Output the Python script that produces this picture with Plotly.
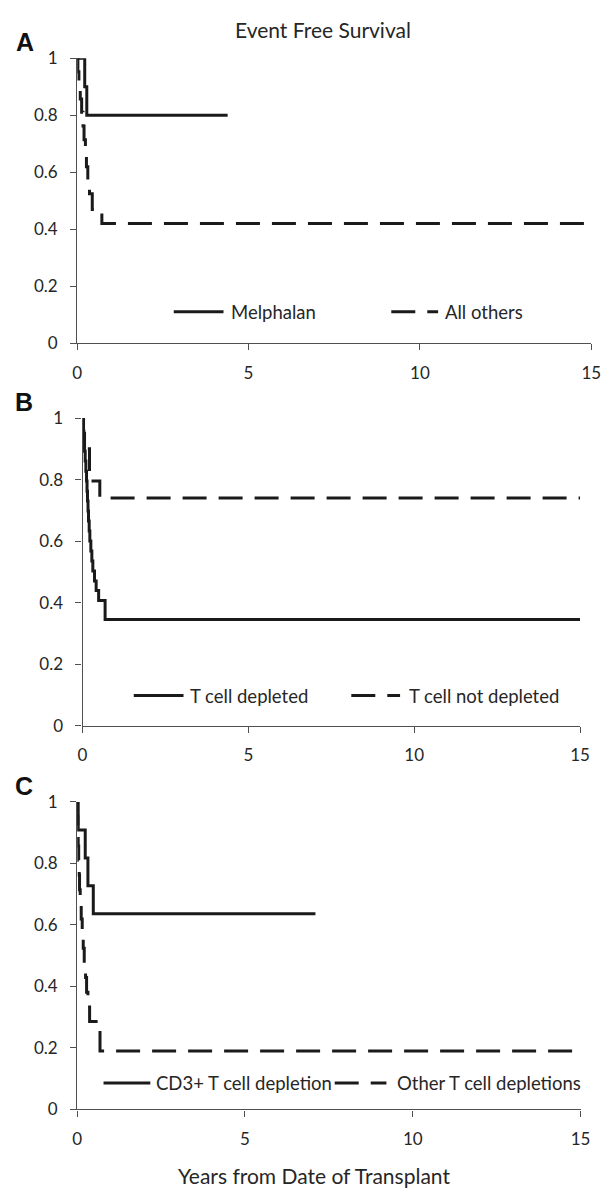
import plotly.graph_objects as go

# ---------------- data ----------------
# Panel A
melphalan_t = [0, 0.22, 0.28, 4.39]
melphalan_s = [1, 0.90, 0.80, 0.80]
allothers_t = [0, 0.02, 0.05, 0.09, 0.13, 0.17, 0.20, 0.24, 0.27, 0.31, 0.36, 0.44, 0.72, 15]
allothers_s = [1, 0.952, 0.905, 0.857, 0.81, 0.762, 0.714, 0.667, 0.619, 0.571, 0.524, 0.469, 0.42, 0.42]

# Panel B
tdep_t = [0, 0.02, 0.04, 0.06, 0.08, 0.10, 0.12, 0.135, 0.15, 0.165, 0.18, 0.20, 0.22,
          0.25, 0.28, 0.31, 0.36, 0.41, 0.485, 0.68, 15]
tdep_s = [1, 0.957, 0.925, 0.892, 0.86, 0.827, 0.795, 0.762, 0.73, 0.698, 0.665, 0.633, 0.60,
          0.568, 0.535, 0.503, 0.47, 0.439, 0.407, 0.345, 0.345]
tnotdep_t = [0, 0.03, 0.06, 0.21, 0.52, 15]
tnotdep_s = [1, 0.95, 0.90, 0.795, 0.74, 0.74]

# Panel C
cd3_t = [0, 0.03, 0.24, 0.32, 0.48, 7.1]
cd3_s = [1, 0.909, 0.818, 0.727, 0.636, 0.636]
othertcd_t = [0, 0.01, 0.02, 0.03, 0.045, 0.06, 0.07, 0.09, 0.12, 0.15, 0.18, 0.21, 0.25,
              0.28, 0.32, 0.37, 0.68, 14.8]
othertcd_s = [1, 0.952, 0.905, 0.857, 0.81, 0.762, 0.714, 0.667, 0.619, 0.571, 0.524, 0.476,
              0.429, 0.381, 0.333, 0.286, 0.19, 0.19]

x_ticks = [0, 5, 10, 15]
x_ticklabels = ["0", "5", "10", "15"]
y_ticks = [0, 0.2, 0.4, 0.6, 0.8, 1]
y_ticklabels = ["0", "0.2", "0.4", "0.6", "0.8", "1"]

panel_letters = ["A", "B", "C"]
legend_names = [["Melphalan", "All others"],
                ["T cell depleted", "T cell not depleted"],
                ["CD3+ T cell depletion", "Other T cell depletions"]]
title_text = "Event Free Survival"
xtitle_text = "Years from Date of Transplant"

# ---------------- styling ----------------
W, H = 612, 1200
FONT = "Lato"
TXT = "#262626"
AX = "#505050"
LINE = "#1a1a1a"
DASH = "24px,12px"


def px(x):
    return x / W


def py(y):
    return 1 - y / H


fig = go.Figure()

series = [
    (melphalan_t, melphalan_s, allothers_t, allothers_s),
    (tdep_t, tdep_s, tnotdep_t, tnotdep_s),
    (cd3_t, cd3_s, othertcd_t, othertcd_s),
]

# pixel geometry of each panel: (x at 0, x at 15, y at 1, y at 0)
geom = [(74, 601, 48, 338), (79.5, 589.5, 414.3, 727.3), (74, 590, 805, 1118)]

for i, (st, ss, dt, ds) in enumerate(series):
    k = "" if i == 0 else str(i + 1)
    fig.add_trace(go.Scatter(x=st, y=ss, mode="lines", line_shape="hv",
                             line=dict(color=LINE, width=3), name=legend_names[i][0],
                             xaxis="x" + k, yaxis="y" + k, showlegend=False))
    fig.add_trace(go.Scatter(x=dt, y=ds, mode="lines", line_shape="hv",
                             line=dict(color=LINE, width=3, dash=DASH), name=legend_names[i][1],
                             xaxis="x" + k, yaxis="y" + k, showlegend=False))
    x0, x1, y1, y0 = geom[i]
    common = dict(showline=True, linecolor=AX, linewidth=1.3, ticks="outside", ticklen=6,
                  tickcolor=AX, tickwidth=1.3, showgrid=False, zeroline=False,
                  tickfont=dict(family=FONT, size=17, color=TXT))
    fig.layout["xaxis" + k] = dict(domain=[px(x0), px(x1)], range=[0, 15],
                                   tickvals=x_ticks, ticktext=x_ticklabels,
                                   anchor="y" + k, ticklabelstandoff=8, **common)
    fig.layout["yaxis" + k] = dict(domain=[py(y0), py(y1)], range=[0, 1],
                                   tickvals=y_ticks, ticktext=y_ticklabels,
                                   anchor="x" + k, ticklabelstandoff=9, **common)

# Excel-like in-plot legends: (y, solid x0, solid x1, text1 x, dashed x0, dashed x1, text2 x)
legend_geom = [(306, 173, 224, 230, 396, 444, 449),
               (696.7, 132, 183, 188, 355, 405, 411.7),
               (1091, 101, 149, 153, 338, 391, 400)]
shapes = []
annotations = []
for i, (ly, s0, s1, t1, d0, d1, t2) in enumerate(legend_geom):
    shapes.append(dict(type="line", xref="paper", yref="paper", x0=px(s0), x1=px(s1),
                       y0=py(ly), y1=py(ly), line=dict(color=LINE, width=3)))
    shapes.append(dict(type="line", xref="paper", yref="paper", x0=px(d0), x1=px(d1),
                       y0=py(ly), y1=py(ly), line=dict(color=LINE, width=3, dash=DASH)))
    annotations.append(dict(text=legend_names[i][0], xref="paper", yref="paper", x=px(t1),
                            y=py(ly), xanchor="left", yanchor="middle", showarrow=False,
                            font=dict(family=FONT, size=18.5, color=TXT)))
    annotations.append(dict(text=legend_names[i][1], xref="paper", yref="paper", x=px(t2),
                            y=py(ly), xanchor="left", yanchor="middle", showarrow=False,
                            font=dict(family=FONT, size=18.5, color=TXT)))

# panel letters
for letter, (lx, ly) in zip(panel_letters, [(21, 32), (19, 398), (19, 789)]):
    annotations.append(dict(text="<b>" + letter + "</b>", xref="paper", yref="paper",
                            x=px(lx), y=py(ly), xanchor="center", yanchor="middle",
                            showarrow=False,
                            font=dict(family="Liberation Sans", size=25, color="#111111")))

annotations.append(dict(text=title_text, xref="paper", yref="paper", x=px(326), y=py(19),
                        xanchor="center", yanchor="middle", showarrow=False,
                        font=dict(family=FONT, size=21, color=TXT)))
annotations.append(dict(text=xtitle_text, xref="paper", yref="paper", x=px(317), y=py(1185),
                        xanchor="center", yanchor="middle", showarrow=False,
                        font=dict(family=FONT, size=21, color=TXT)))

fig.update_layout(width=W, height=H, margin=dict(l=0, r=0, t=0, b=0),
                  paper_bgcolor="white", plot_bgcolor="white",
                  shapes=shapes, annotations=annotations, showlegend=False)

fig.write_html(
    "out.html",
    config={"displayModeBar": False},
    post_script=("document.documentElement.style.margin='0';"
                 "document.body.style.margin='0';"
                 "document.documentElement.style.overflow='hidden';"
                 "document.body.style.overflow='hidden';"),
)
